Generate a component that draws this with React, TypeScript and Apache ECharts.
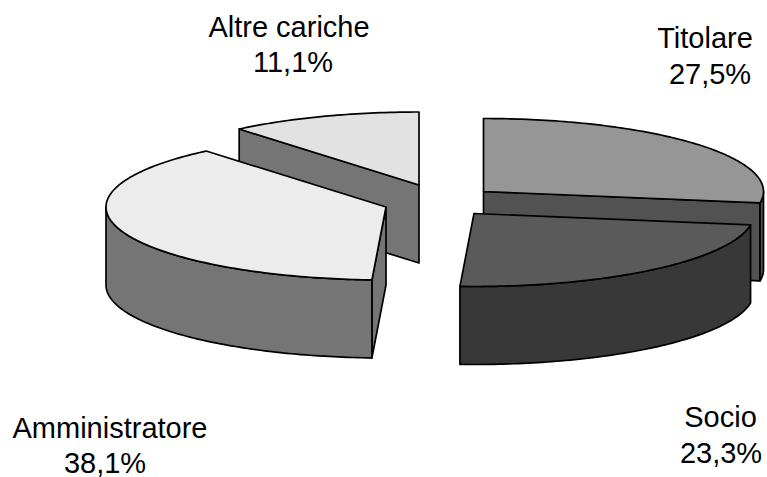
import React, { useEffect, useRef } from "react";
import * as echarts from "echarts";

const categories = ["Titolare", "Socio", "Amministratore", "Altre cariche"];
const shares = [27.5, 23.3, 38.1, 11.1];

const topColors = ["#969696", "#5a5a5a", "#ececec", "#e2e2e2"];
const outerWallColors = ["#525252", "#383838", "#757575", "#757575"];
const centers = [[483.5, 191.5], [474, 213.5], [386, 207], [419, 185]];
const paintRank = [2, 3, 1, 0];
const nameAnchors = [[705, 38], [720.5, 417], [110, 428], [289, 27]];
const shareAnchors = [[710, 74], [721, 453], [105, 462.5], [293, 62]];
const RX = 280;
const RY = 73;
const DEPTH = 78;
const FONT = "'Liberation Sans', Arial, sans-serif";

const rad = (d: number) => (d * Math.PI) / 180;

function rim(cx: number, cy: number, from: number, to: number) {
  const pts: number[][] = [];
  const steps = Math.max(2, Math.ceil(Math.abs(to - from)));
  for (let k = 0; k <= steps; k++) {
    const a = rad(from + ((to - from) * k) / steps);
    pts.push([cx + RX * Math.sin(a), cy - RY * Math.cos(a)]);
  }
  return pts;
}

function renderSlice(params: any, api: any) {
  const i = params.dataIndex;
  const total = shares.reduce((s, v) => s + v, 0);
  const before = shares.slice(0, i).reduce((s, v) => s + v, 0);
  const start = (before / total) * 360;
  const end = ((before + api.value(0)) / total) * 360;
  const [cx, cy] = centers[i];
  const z = paintRank[i] * 10;
  const stroke = { stroke: "#000", lineWidth: 1.7, lineJoin: "round" };
  const children: any[] = [];
  const radialWall = (a: number, zz: number) => {
    const p = rim(cx, cy, a, a).slice(0, 1)[0];
    children.push({
      type: "polygon",
      z2: zz,
      shape: { points: [[cx, cy], p, [p[0], p[1] + DEPTH], [cx, cy + DEPTH]] },
      style: { fill: outerWallColors[i], ...stroke },
    });
  };
  if (Math.sin(rad(start)) < -1e-6) radialWall(start, z + 1);
  if (Math.sin(rad(end)) > 1e-6) radialWall(end, z + 1);
  const lo = Math.max(start, 90);
  const hi = Math.min(end, 270);
  if (hi > lo) {
    const upper = rim(cx, cy, lo, hi);
    const lower = rim(cx, cy + DEPTH, hi, lo);
    children.push({
      type: "polygon",
      z2: z + 2,
      shape: { points: upper.concat(lower) },
      style: { fill: outerWallColors[i], ...stroke },
    });
  }
  children.push({
    type: "polygon",
    z2: z + 3,
    shape: { points: [[cx, cy] as number[]].concat(rim(cx, cy, start, end)) },
    style: { fill: topColors[i], ...stroke },
  });
  const textStyle = {
    fontSize: 29,
    fontFamily: FONT,
    fill: "#000",
    align: "center",
    verticalAlign: "middle",
  };
  children.push({
    type: "text",
    z2: 100,
    x: nameAnchors[i][0],
    y: nameAnchors[i][1],
    style: { ...textStyle, text: categories[i] },
  });
  children.push({
    type: "text",
    z2: 100,
    x: shareAnchors[i][0],
    y: shareAnchors[i][1],
    style: { ...textStyle, text: api.value(0).toFixed(1).replace(".", ",") + "%" },
  });
  return { type: "group", children };
}

export default function App() {
  const ref = useRef<HTMLDivElement>(null);
  useEffect(() => {
    const chart = echarts.init(ref.current!, undefined, { renderer: "svg" });
    chart.setOption({
      animation: false,
      backgroundColor: "#fff",
      series: [
        {
          type: "custom",
          coordinateSystem: "none",
          renderItem: renderSlice,
          silent: true,
          data: categories.map((name, i) => ({ name, value: [shares[i]] })),
        },
      ],
    });
    return () => chart.dispose();
  }, []);
  return (
    <div
      ref={ref}
      style={{ position: "fixed", left: 0, top: 0, width: 767, height: 477 }}
    />
  );
}
